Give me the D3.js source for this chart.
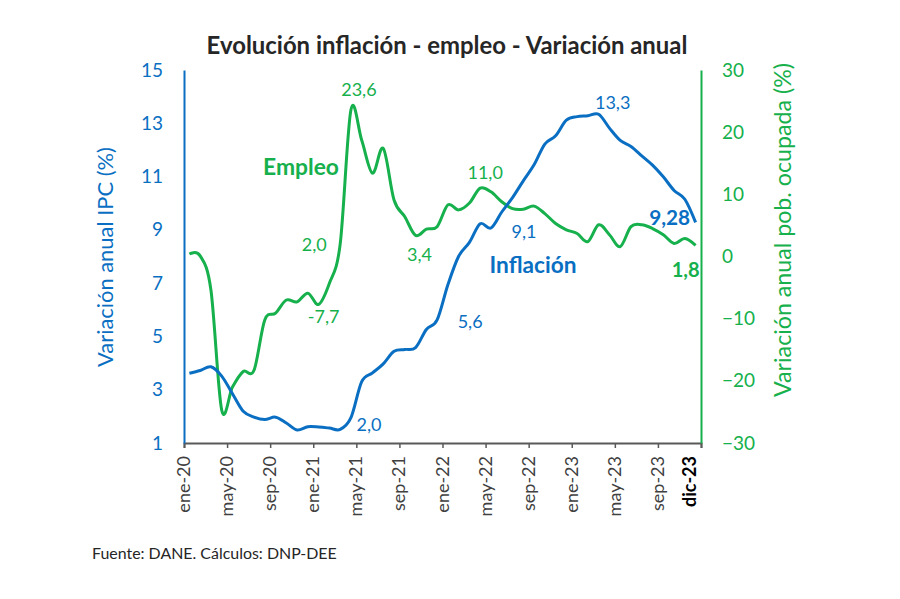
<!DOCTYPE html>
<html><head><meta charset="utf-8">
<script src="https://cdn.jsdelivr.net/npm/d3@7"></script>
<style>body{margin:0;background:#fff;} text{font-family:Lato, "Open Sans", sans-serif;}</style>
</head><body>
<svg id="c" width="900" height="599"></svg>
<script>
const categories = ["ene-20","feb-20","mar-20","abr-20","may-20","jun-20","jul-20","ago-20","sep-20","oct-20","nov-20","dic-20",
"ene-21","feb-21","mar-21","abr-21","may-21","jun-21","jul-21","ago-21","sep-21","oct-21","nov-21","dic-21",
"ene-22","feb-22","mar-22","abr-22","may-22","jun-22","jul-22","ago-22","sep-22","oct-22","nov-22","dic-22",
"ene-23","feb-23","mar-23","abr-23","may-23","jun-23","jul-23","ago-23","sep-23","oct-23","nov-23","dic-23"];
const inflacion = [3.62,3.72,3.86,3.51,2.85,2.19,1.97,1.88,1.97,1.75,1.49,1.61,
1.60,1.56,1.51,1.95,3.30,3.63,3.97,4.44,4.51,4.58,5.26,5.62,
6.94,8.01,8.53,9.23,9.07,9.67,10.21,10.84,11.44,12.22,12.53,13.12,
13.25,13.28,13.34,12.82,12.36,12.13,11.78,11.43,10.99,10.48,10.15,9.28];
const empleo = [0.4,0.1,-5.4,-24.7,-21.0,-18.5,-18.3,-10.2,-9.1,-7.0,-7.3,-5.9,
-7.7,-4.3,2.0,23.6,18.7,13.4,17.4,9.1,6.4,3.4,4.4,4.8,
8.3,7.5,8.6,11.0,10.4,8.8,7.7,7.6,8.1,6.9,5.3,4.3,
3.7,2.4,5.1,3.5,1.6,4.8,5.1,4.5,3.5,2.1,2.9,1.8];
const xTickLabels = ["ene-20","may-20","sep-20","ene-21","may-21","sep-21","ene-22","may-22","sep-22","ene-23","may-23","sep-23","dic-23"];
const leftTicks = [1,3,5,7,9,11,13,15];
const rightTicks = [-30,-20,-10,0,10,20,30];
// labels: [category, value, text]
const inflLabels = [["abr-21",1.95,"2,0"],["dic-21",5.62,"5,6"],["may-22",9.07,"9,1"],["mar-23",13.34,"13,3"]];
const empLabels = [["abr-21",23.6,"23,6"],["mar-21",2.0,"2,0"],["ene-21",-7.7,"-7,7"],["oct-21",3.4,"3,4"],["abr-22",11.0,"11,0"]];

const BLUE = "#0a6fc2", GREEN = "#16b04c", GRAY = "#404040";
const svg = d3.select("#c");
const L = 184, R = 701, T = 70, B = 443;
const x = d3.scaleLinear().domain([0, categories.length]).range([L, R]);
const xc = c => x(categories.indexOf(c) + 0.5);
const yL = d3.scaleLinear().domain([1, 15]).range([B, T]);
const yR = d3.scaleLinear().domain([-30, 30]).range([B, T]);

function fit(sel, target) {
  const fs = +sel.attr("font-size");
  const w = sel.node().getComputedTextLength();
  if (w > 0) sel.attr("font-size", fs * target / w);
  return sel;
}

// title
fit(svg.append("text").attr("x", 447).attr("y", 54).attr("text-anchor", "middle")
  .attr("font-size", 20).attr("font-weight", "bold").attr("fill", "#262626")
  .text("Evolución inflación - empleo - Variación anual"), 481);

// bottom axis
const xAxis = d3.axisBottom(x).tickValues(d3.range(0, 49, 4)).tickSize(5).tickFormat("");
const gx = svg.append("g").attr("transform", `translate(0,${B})`).call(xAxis);
gx.select(".domain").attr("stroke", "#595959").attr("stroke-width", 2);
gx.selectAll(".tick line").attr("stroke", "#595959").attr("stroke-width", 1.5);
const labelPos = xTickLabels.map(l => categories.indexOf(l));
svg.append("g").selectAll("text").data(xTickLabels).join("text")
  .attr("transform", (d, i) => `translate(${x(labelPos[i]) + 6},456) rotate(-90)`)
  .attr("text-anchor", "end").attr("font-size", 18)
  .attr("fill", d => d === "dic-23" ? "#000" : GRAY)
  .attr("font-weight", d => d === "dic-23" ? "bold" : "normal")
  .text(d => d);

// left axis
const gl = svg.append("g").attr("transform", `translate(${L},0)`)
  .call(d3.axisLeft(yL).tickValues(leftTicks).tickSize(0).tickPadding(21));
gl.select(".domain").attr("stroke", BLUE).attr("stroke-width", 2);
gl.selectAll(".tick text").attr("fill", BLUE).attr("font-size", 19).attr("font-family", "Lato");
// right axis
const gr = svg.append("g").attr("transform", `translate(${R},0)`)
  .call(d3.axisRight(yR).tickValues(rightTicks).tickSize(0).tickPadding(21));
gr.select(".domain").attr("stroke", GREEN).attr("stroke-width", 2);
gr.selectAll(".tick text").attr("fill", GREEN).attr("font-size", 19).attr("font-family", "Lato");

// axis titles
fit(svg.append("text").attr("transform", "translate(113,257) rotate(-90)").attr("text-anchor", "middle")
  .attr("font-size", 19).attr("fill", BLUE).text("Variación anual IPC (%)"), 220);
fit(svg.append("text").attr("transform", "translate(791,230) rotate(-90)").attr("text-anchor", "middle")
  .attr("font-size", 19).attr("fill", GREEN).text("Variación anual pob. ocupada (%)"), 334);

// lines
const lineL = d3.line().x((d, i) => x(i + 0.5)).y(d => yL(d)).curve(d3.curveCatmullRom.alpha(0));
const lineR = d3.line().x((d, i) => x(i + 0.5)).y(d => yR(d)).curve(d3.curveCatmullRom.alpha(0));
svg.append("path").datum(empleo).attr("d", lineR).attr("fill", "none").attr("stroke", GREEN).attr("stroke-width", 3);
svg.append("path").datum(inflacion).attr("d", lineL).attr("fill", "none").attr("stroke", BLUE).attr("stroke-width", 3);

// data labels
const inflOff = {"2,0":[18,7],"5,6":[33,2],"9,1":[33,4],"13,3":[14,-12]};
svg.append("g").selectAll("text").data(inflLabels).join("text")
  .attr("x", d => xc(d[0]) + inflOff[d[2]][0]).attr("y", d => yL(d[1]) + inflOff[d[2]][1])
  .attr("text-anchor", "middle").attr("dy", "0.35em").attr("font-size", 18).attr("fill", BLUE).text(d => d[2]);
const empOff = {"23,6":[8,-20],"2,0":[-26,1],"-7,7":[5,12],"3,4":[4,19],"11,0":[5,-15]};
svg.append("g").selectAll("text").data(empLabels).join("text")
  .attr("x", d => xc(d[0]) + empOff[d[2]][0]).attr("y", d => yR(d[1]) + empOff[d[2]][1])
  .attr("text-anchor", "middle").attr("dy", "0.35em").attr("font-size", 18).attr("fill", GREEN).text(d => d[2]);

// end labels
const nI = inflacion.length - 1, nE = empleo.length - 1;
fit(svg.append("text").attr("x", xc(categories[nI]) - 26).attr("y", yL(inflacion[nI]) - 5).attr("dy", "0.35em")
  .attr("text-anchor", "middle").attr("font-size", 20).attr("font-weight", "bold").attr("fill", BLUE)
  .text(String(inflacion[nI]).replace(".", ",")), 41);
fit(svg.append("text").attr("x", xc(categories[nE]) - 10).attr("y", yR(empleo[nE]) + 25).attr("dy", "0.35em")
  .attr("text-anchor", "middle").attr("font-size", 20).attr("font-weight", "bold").attr("fill", GREEN)
  .text(String(empleo[nE]).replace(".", ",")), 28);

// series names
fit(svg.append("text").attr("x", 301).attr("y", 167).attr("dy", "0.35em").attr("text-anchor", "middle")
  .attr("font-size", 20).attr("font-weight", "bold").attr("fill", GREEN).text("Empleo"), 76);
fit(svg.append("text").attr("x", 533).attr("y", 265).attr("dy", "0.35em").attr("text-anchor", "middle")
  .attr("font-size", 20).attr("font-weight", "bold").attr("fill", BLUE).text("Inflación"), 87);

// source
fit(svg.append("text").attr("x", 92).attr("y", 559).attr("font-size", 14).attr("fill", "#262626")
  .text("Fuente: DANE. Cálculos: DNP-DEE"), 245);
</script>
</body></html>
